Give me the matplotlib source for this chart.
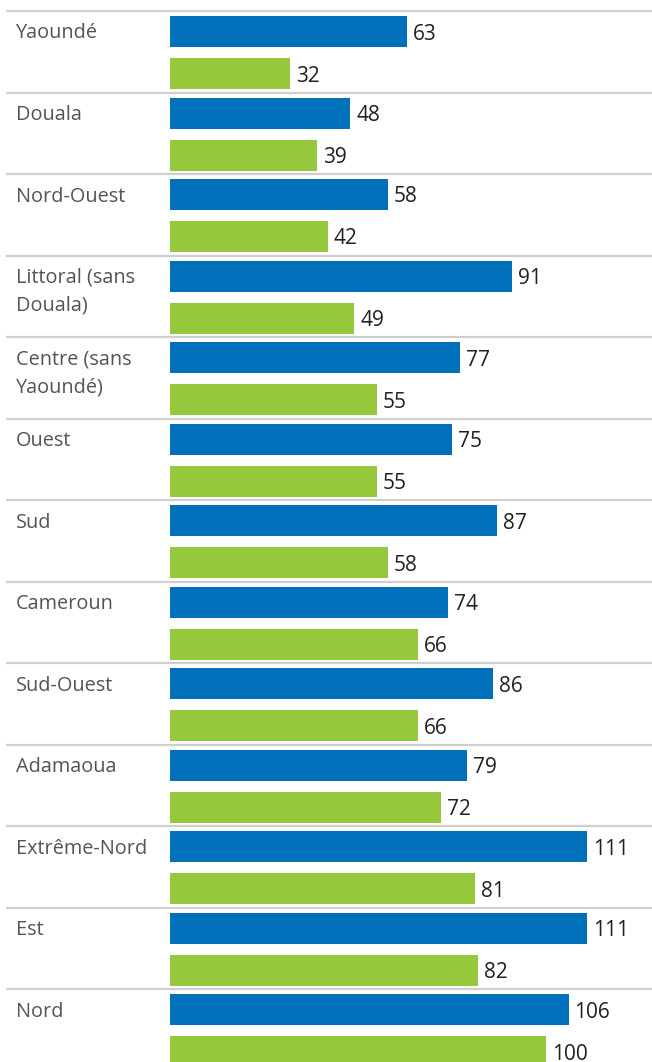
import matplotlib.pyplot as plt
from matplotlib.transforms import offset_copy

plt.rcParams['font.family'] = ['Open Sans', 'DejaVu Sans']

regions = ['Yaoundé', 'Douala', 'Nord-Ouest', 'Littoral (sans\nDouala)',
           'Centre (sans\nYaoundé)', 'Ouest', 'Sud', 'Cameroun', 'Sud-Ouest',
           'Adamaoua', 'Extrême-Nord', 'Est', 'Nord']
serie_bleue = [63, 48, 58, 91, 77, 75, 87, 74, 86, 79, 111, 111, 106]
serie_verte = [32, 39, 42, 49, 55, 55, 58, 66, 66, 72, 81, 82, 100]

bleu = '#0070ba'
vert = '#96c83d'
gris_texte = '#545456'
noir_texte = '#231f20'

W, H = 652, 1062
fig = plt.figure(figsize=(W / 100, H / 100), dpi=100)
ax = fig.add_axes([0, 0, 1, 1])

# 1 unite en x = 3.76 px, zero des barres a 170 px ; 1 groupe = 81.5 px
px_x = 3.76
x0 = 170
grp = 81.5
haut = 11 / grp
ax.set_xlim(-x0 / px_x, (W - x0) / px_x)
ax.set_ylim(H / grp, 0)
ax.axis('off')

ep = 31 / grp
for i, (nom, b, v) in enumerate(zip(regions, serie_bleue, serie_verte)):
    top = i + haut
    yb = top + 20.5 / grp
    yv = top + 62.5 / grp
    ax.plot([(6 - x0) / px_x, (W - x0) / px_x], [top, top],
            color='#cfcfcf', lw=1.6, solid_capstyle='butt')
    ax.barh(yb, b, height=ep, color=bleu, left=0)
    ax.barh(yv, v, height=ep, color=vert, left=0)
    # une ligne de libelle toutes les 28 px, la premiere au niveau de la barre bleue
    for k, ligne in enumerate(nom.split('\n')):
        ax.text((16 - x0) / px_x, yb + (7 + 28 * k) / grp, ligne,
                fontsize=14.3, color=gris_texte, va='baseline', ha='left')
    for val, y in ((b, yb), (v, yv)):
        t = offset_copy(ax.transData, fig=fig, x=6, y=0, units='dots')
        ax.text(val, y + 8 / grp, str(val), fontsize=15, color=noir_texte,
                va='baseline', ha='left', transform=t)

fig.savefig('out.png', dpi=100)
